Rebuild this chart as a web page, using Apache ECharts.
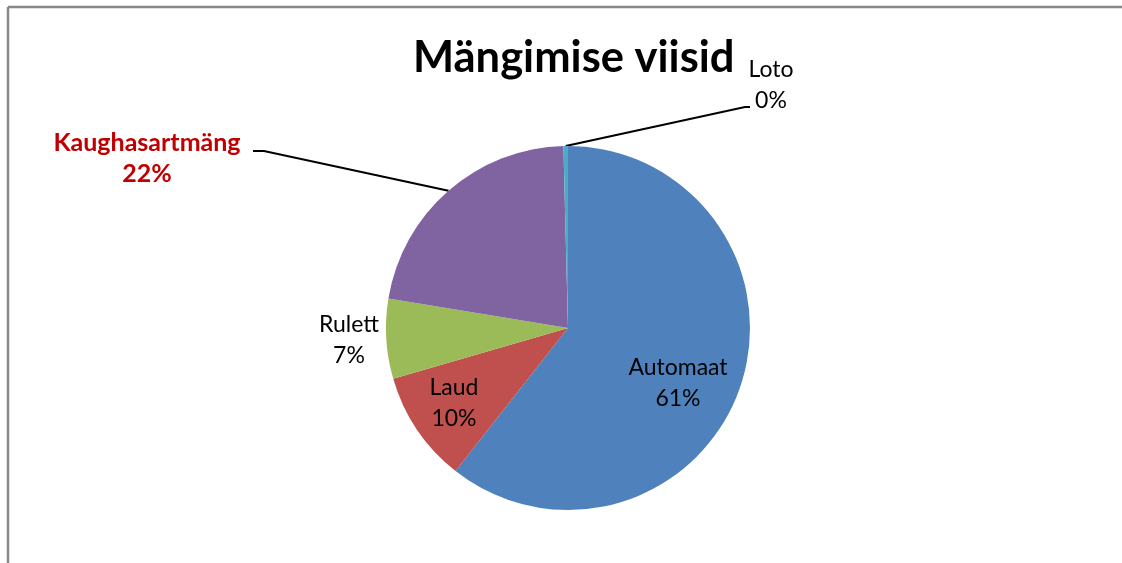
<!DOCTYPE html>
<html>
<head>
<meta charset="utf-8">
<script src="https://cdn.jsdelivr.net/npm/echarts@6/dist/echarts.min.js"></script>
<style>
  html, body { margin: 0; padding: 0; background: #ffffff; }
  #chart { width: 1122px; height: 563px; }
</style>
</head>
<body>
<div id="chart"></div>
<script>
// ---- data ----
const titleText = 'Mängimise viisid';
const categories = ['Automaat', 'Laud', 'Rulett', 'Kaughasartmäng', 'Loto'];
const values = [60.6, 9.9, 7.1, 22.0, 0.4];
const colors = ['#4F81BD', '#C0504D', '#9BBB59', '#8064A2', '#4BACC6'];

// label placement (centre of each label block) and which ones use leader lines
const labelPos = [[678, 383], [454, 403], [349, 340], [147, 158], [771, 85]];
const hasLeader = [false, false, false, true, true];
const leaderEnd = [null, null, null, [[264, 151], [253, 151]], [[745, 107], [750, 107]]];

const chart = echarts.init(document.getElementById('chart'), null, { renderer: 'canvas' });

const FONT = 'Lato';

const seriesData = categories.map((name, i) => {
  const item = {
    name: name,
    value: values[i],
    itemStyle: { color: colors[i] },
    labelLine: { show: hasLeader[i] }
  };
  if (name === 'Kaughasartmäng') {
    item.label = { color: '#C00000', fontWeight: 'bold', fontSize: 25 };
  }
  return item;
});

const option = {
  backgroundColor: '#ffffff',
  animation: false,
  title: {
    text: titleText,
    left: 408,
    top: 31,
    textStyle: { fontFamily: FONT, fontSize: 43.5, fontWeight: 'bold', color: '#000000' }
  },
  graphic: [
    { type: 'line', shape: { x1: 8, y1: 7, x2: 8, y2: 563 }, style: { stroke: '#888888', lineWidth: 2.5 } },
    { type: 'line', shape: { x1: 8, y1: 7, x2: 1122, y2: 7 }, style: { stroke: '#888888', lineWidth: 2.5 } }
  ],
  series: [{
    type: 'pie',
    center: [568, 328],
    radius: 182,
    startAngle: 90,
    clockwise: true,
    avoidLabelOverlap: false,
    percentPrecision: 0,
    data: seriesData,
    label: {
      show: true,
      position: 'outside',
      formatter: '{b}\n{d}%',
      fontFamily: FONT,
      fontSize: 23,
      lineHeight: 31,
      color: '#000000',
      align: 'center'
    },
    labelLine: {
      show: true,
      length: 10,
      length2: 10,
      smooth: false,
      lineStyle: { color: '#000000', width: 2.2 }
    },
    labelLayout: function (params) {
      const i = params.dataIndex;
      const res = {
        x: labelPos[i][0],
        y: labelPos[i][1],
        align: 'center',
        verticalAlign: 'middle'
      };
      if (hasLeader[i] && params.labelLinePoints) {
        const start = params.labelLinePoints[0];
        res.labelLinePoints = [start, leaderEnd[i][0], leaderEnd[i][1]];
      }
      return res;
    }
  }]
};

chart.setOption(option);
</script>
</body>
</html>
